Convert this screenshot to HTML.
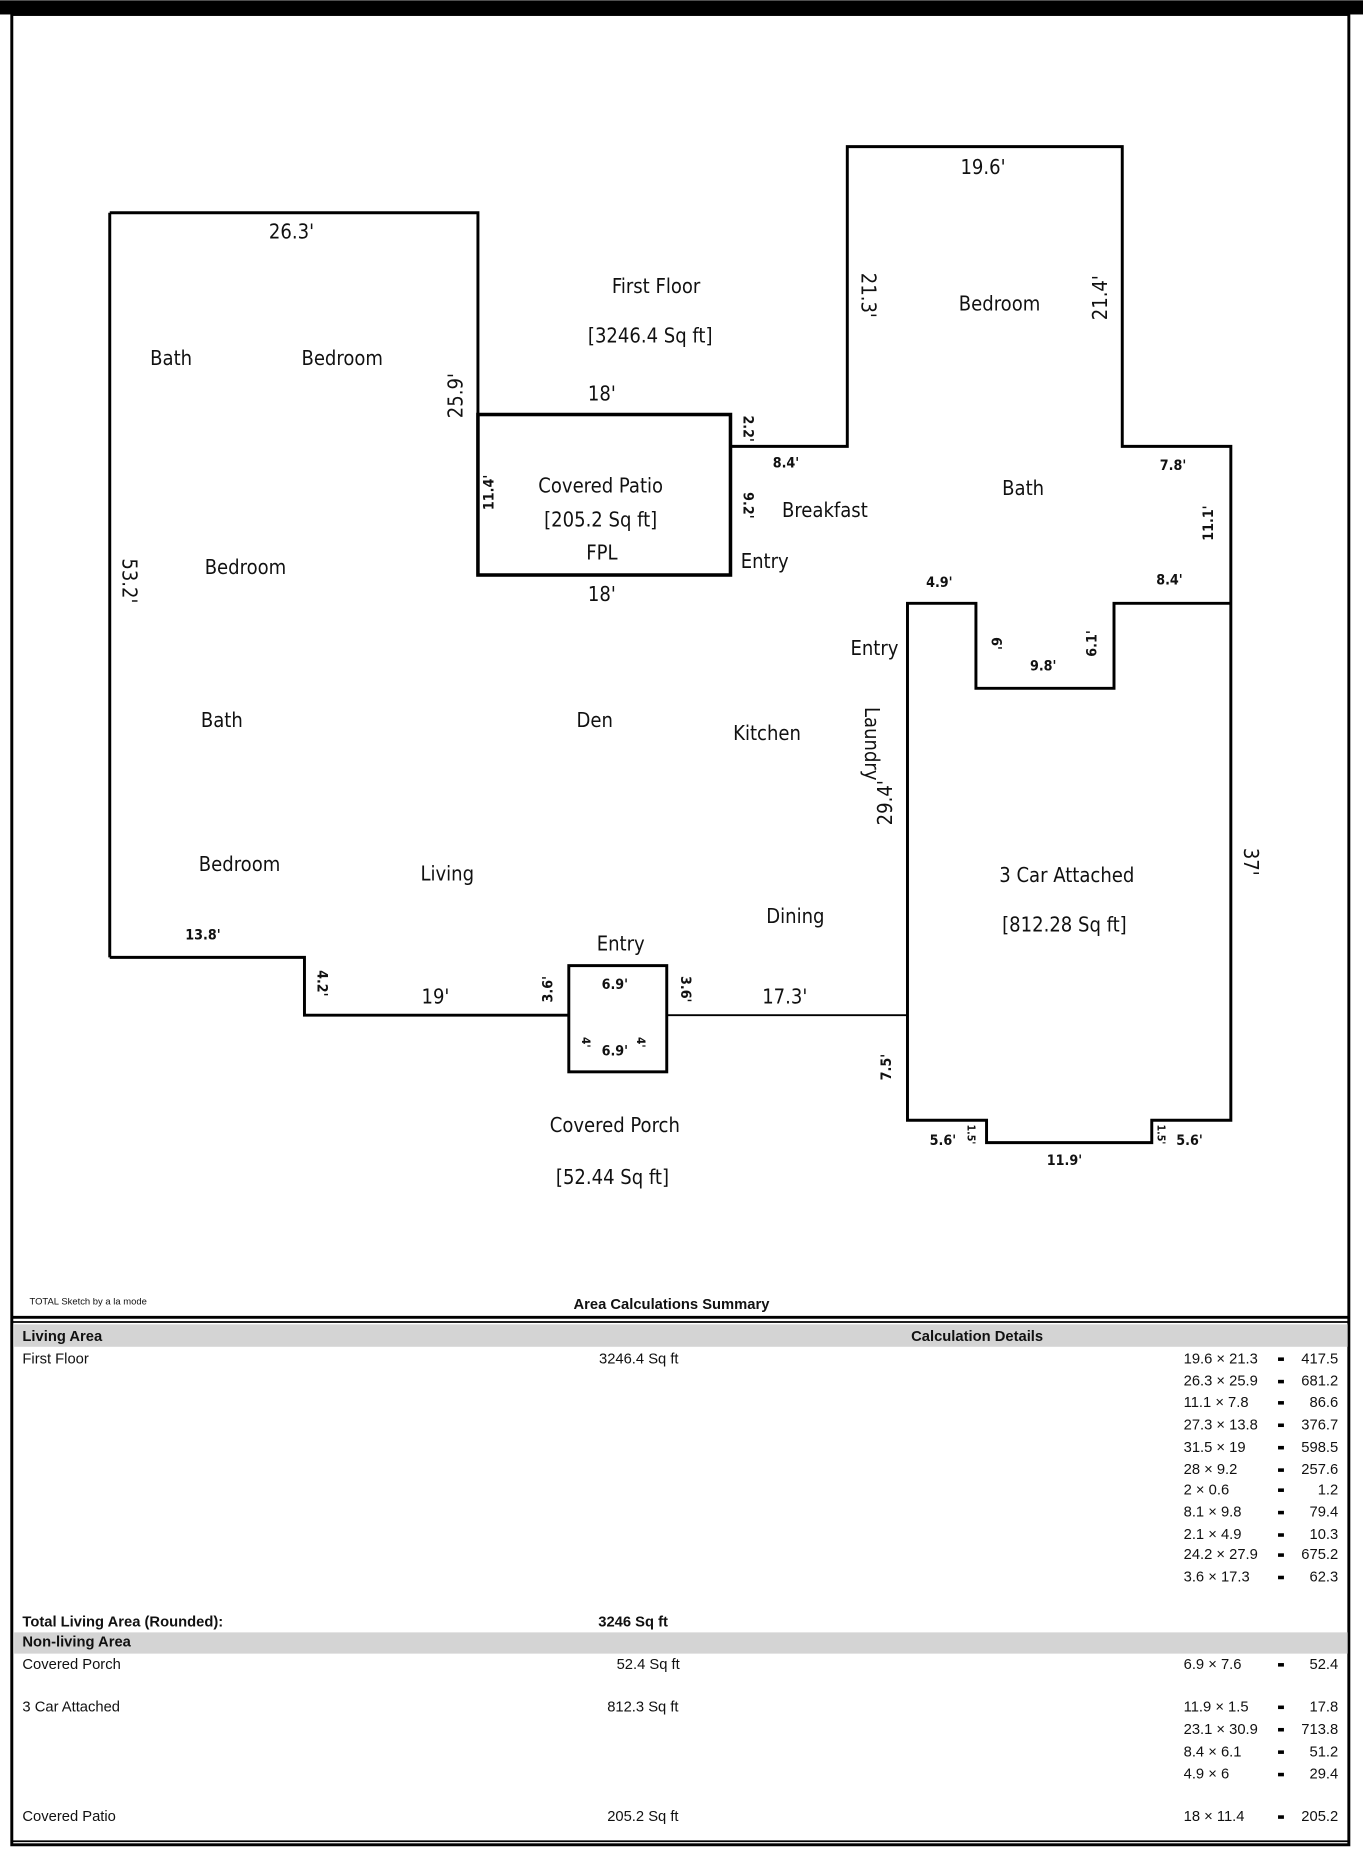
<!DOCTYPE html>
<html><head><meta charset="utf-8"><style>
html,body{margin:0;padding:0;background:#fff;}
svg{display:block;}
text{font-family:"DejaVu Sans Condensed","Liberation Sans",sans-serif;fill:#111;}
.r{font-size:17px;}
.d{font-size:17px;}
.s{font-size:12px;font-weight:bold;}
.t{font-family:"Liberation Sans Narrow","Liberation Sans",sans-serif;font-size:12.5px;}
.tb{font-family:"Liberation Sans Narrow","Liberation Sans",sans-serif;font-size:12.5px;font-weight:bold;}
</style></head><body>
<svg width="1363" height="1851" viewBox="0 0 1155 1568" xmlns="http://www.w3.org/2000/svg">
<rect x="0" y="0" width="1155" height="12" fill="#000"/>
<rect x="10" y="12" width="1133" height="1551" fill="none" stroke="#000" stroke-width="2.5"/>
<line x1="10" y1="1116" x2="1143" y2="1116" stroke="#000" stroke-width="2.5"/>
<line x1="10" y1="1120" x2="1143" y2="1120" stroke="#000" stroke-width="1.5"/>
<rect x="12" y="1122" width="1130" height="19" fill="#d4d4d4"/>
<rect x="12" y="1383" width="1130" height="18" fill="#d4d4d4"/>
<line x1="10" y1="1560" x2="1143" y2="1560" stroke="#000" stroke-width="1.5"/>

<g fill="none" stroke="#000" stroke-width="2.5" stroke-linejoin="miter">
<polyline points="93,180 405,180 405,487"/>
<line x1="93" y1="180" x2="93" y2="811"/>
<polyline points="93,811 258,811 258,860 482,860"/>
<rect x="405" y="351" width="214" height="136" stroke-width="3"/>
<polyline points="619,378 718,378 718,124 951,124 951,378 1043,378 1043,949 976,949 976,968 836,968 836,949 769,949 769,511 827,511 827,583 944,583 944,511 1043,511"/>
<rect x="482" y="818" width="83" height="90"/>
<line x1="565" y1="860" x2="769" y2="860" stroke-width="1.5"/>
</g>

<text class="r" x="556" y="248" text-anchor="middle">First Floor</text>
<text class="r" x="551" y="290" text-anchor="middle">[3246.4 Sq ft]</text>
<text class="r" x="145" y="309" text-anchor="middle">Bath</text>
<text class="r" x="290" y="309" text-anchor="middle">Bedroom</text>
<text class="r" x="847" y="263" text-anchor="middle">Bedroom</text>
<text class="r" x="509" y="417" text-anchor="middle">Covered Patio</text>
<text class="r" x="509" y="446" text-anchor="middle">[205.2 Sq ft]</text>
<text class="r" x="510" y="474" text-anchor="middle">FPL</text>
<text class="r" x="699" y="438" text-anchor="middle">Breakfast</text>
<text class="r" x="867" y="419" text-anchor="middle">Bath</text>
<text class="r" x="648" y="481" text-anchor="middle">Entry</text>
<text class="r" x="208" y="486" text-anchor="middle">Bedroom</text>
<text class="r" x="741" y="555" text-anchor="middle">Entry</text>
<text class="r" x="188" y="616" text-anchor="middle">Bath</text>
<text class="r" x="504" y="616" text-anchor="middle">Den</text>
<text class="r" x="650" y="627" text-anchor="middle">Kitchen</text>
<text class="r" x="203" y="738" text-anchor="middle">Bedroom</text>
<text class="r" x="379" y="746" text-anchor="middle">Living</text>
<text class="r" x="904" y="747" text-anchor="middle">3 Car Attached</text>
<text class="r" x="902" y="789" text-anchor="middle">[812.28 Sq ft]</text>
<text class="r" x="674" y="782" text-anchor="middle">Dining</text>
<text class="r" x="526" y="805" text-anchor="middle">Entry</text>
<text class="r" x="521" y="959" text-anchor="middle">Covered Porch</text>
<text class="r" x="519" y="1003" text-anchor="middle">[52.44 Sq ft]</text>

<text class="d" x="247" y="202" text-anchor="middle">26.3'</text>
<text class="d" x="833" y="147" text-anchor="middle">19.6'</text>
<text class="d" x="510" y="339" text-anchor="middle">18'</text>
<text class="d" x="510" y="509" text-anchor="middle">18'</text>
<text class="d" x="369" y="850" text-anchor="middle">19'</text>
<text class="d" x="665" y="850" text-anchor="middle">17.3'</text>
<text class="d" transform="translate(392,335) rotate(-90)" text-anchor="middle">25.9'</text>
<text class="d" transform="translate(104,492) rotate(90)" text-anchor="middle">53.2'</text>
<text class="d" transform="translate(730,250) rotate(90)" text-anchor="middle">21.3'</text>
<text class="d" transform="translate(938,252) rotate(-90)" text-anchor="middle">21.4'</text>
<text class="d" transform="translate(756,680) rotate(-90)" text-anchor="middle">29.4'</text>
<text class="d" transform="translate(733,630) rotate(90)" text-anchor="middle">Laundry</text>
<text class="d" transform="translate(1054,730) rotate(90)" text-anchor="middle">37'</text>

<text class="s" x="666" y="396" text-anchor="middle">8.4'</text>
<text class="s" x="994" y="398" text-anchor="middle">7.8'</text>
<text class="s" x="796" y="497" text-anchor="middle">4.9'</text>
<text class="s" x="991" y="495" text-anchor="middle">8.4'</text>
<text class="s" x="884" y="568" text-anchor="middle">9.8'</text>
<text class="s" x="172" y="796" text-anchor="middle">13.8'</text>
<text class="s" x="521" y="838" text-anchor="middle">6.9'</text>
<text class="s" x="521" y="894" text-anchor="middle">6.9'</text>
<text class="s" x="799" y="970" text-anchor="middle">5.6'</text>
<text class="s" x="1008" y="970" text-anchor="middle">5.6'</text>
<text class="s" x="902" y="987" text-anchor="middle">11.9'</text>
<text class="s" transform="translate(418,417) rotate(-90)" text-anchor="middle">11.4'</text>
<text class="s" transform="translate(630,363) rotate(90)" text-anchor="middle">2.2'</text>
<text class="s" transform="translate(630,428) rotate(90)" text-anchor="middle">9.2'</text>
<text class="s" transform="translate(1028,443) rotate(-90)" text-anchor="middle">11.1'</text>
<text class="s" transform="translate(840,545) rotate(90)" text-anchor="middle">6'</text>
<text class="s" transform="translate(929,545) rotate(-90)" text-anchor="middle">6.1'</text>
<text class="s" transform="translate(269,833) rotate(90)" text-anchor="middle">4.2'</text>
<text class="s" transform="translate(468,838) rotate(-90)" text-anchor="middle">3.6'</text>
<text class="s" transform="translate(577,838) rotate(90)" text-anchor="middle">3.6'</text>
<text class="s" transform="translate(755,904) rotate(-90)" text-anchor="middle">7.5'</text>
<text class="s" transform="translate(493,883) rotate(90)" text-anchor="middle" style="font-size:10px">4'</text>
<text class="s" transform="translate(540,883) rotate(90)" text-anchor="middle" style="font-size:10px">4'</text>
<text class="s" transform="translate(820,961) rotate(90)" text-anchor="middle" style="font-size:9px">1.5'</text>
<text class="s" transform="translate(981,961) rotate(90)" text-anchor="middle" style="font-size:9px">1.5'</text>

<text class="t" x="25" y="1105" style="font-size:8px">TOTAL Sketch by a la mode</text>
<text class="tb" x="569" y="1109" text-anchor="middle">Area Calculations Summary</text>
<text class="tb" x="19" y="1136">Living Area</text>
<text class="tb" x="828" y="1136" text-anchor="middle">Calculation Details</text>
<text class="t" x="19" y="1155">First Floor</text>
<text class="t" x="575" y="1155" text-anchor="end">3246.4 Sq ft</text>
<g>
<text class="t" x="1003" y="1155">19.6 × 21.3</text><text class="t" x="1134" y="1155" text-anchor="end">417.5</text>
<text class="t" x="1003" y="1174">26.3 × 25.9</text><text class="t" x="1134" y="1174" text-anchor="end">681.2</text>
<text class="t" x="1003" y="1192">11.1 × 7.8</text><text class="t" x="1134" y="1192" text-anchor="end">86.6</text>
<text class="t" x="1003" y="1211">27.3 × 13.8</text><text class="t" x="1134" y="1211" text-anchor="end">376.7</text>
<text class="t" x="1003" y="1230">31.5 × 19</text><text class="t" x="1134" y="1230" text-anchor="end">598.5</text>
<text class="t" x="1003" y="1249">28 × 9.2</text><text class="t" x="1134" y="1249" text-anchor="end">257.6</text>
<text class="t" x="1003" y="1266">2 × 0.6</text><text class="t" x="1134" y="1266" text-anchor="end">1.2</text>
<text class="t" x="1003" y="1285">8.1 × 9.8</text><text class="t" x="1134" y="1285" text-anchor="end">79.4</text>
<text class="t" x="1003" y="1304">2.1 × 4.9</text><text class="t" x="1134" y="1304" text-anchor="end">10.3</text>
<text class="t" x="1003" y="1321">24.2 × 27.9</text><text class="t" x="1134" y="1321" text-anchor="end">675.2</text>
<text class="t" x="1003" y="1340">3.6 × 17.3</text><text class="t" x="1134" y="1340" text-anchor="end">62.3</text>
<text class="t" x="1003" y="1414">6.9 × 7.6</text><text class="t" x="1134" y="1414" text-anchor="end">52.4</text>
<text class="t" x="1003" y="1450">11.9 × 1.5</text><text class="t" x="1134" y="1450" text-anchor="end">17.8</text>
<text class="t" x="1003" y="1469">23.1 × 30.9</text><text class="t" x="1134" y="1469" text-anchor="end">713.8</text>
<text class="t" x="1003" y="1488">8.4 × 6.1</text><text class="t" x="1134" y="1488" text-anchor="end">51.2</text>
<text class="t" x="1003" y="1507">4.9 × 6</text><text class="t" x="1134" y="1507" text-anchor="end">29.4</text>
<text class="t" x="1003" y="1543">18 × 11.4</text><text class="t" x="1134" y="1543" text-anchor="end">205.2</text>
</g>
<g fill="#000">
<rect x="1083" y="1150" width="5" height="3"/><rect x="1083" y="1169" width="5" height="3"/><rect x="1083" y="1187" width="5" height="3"/><rect x="1083" y="1206" width="5" height="3"/><rect x="1083" y="1225" width="5" height="3"/><rect x="1083" y="1244" width="5" height="3"/><rect x="1083" y="1261" width="5" height="3"/><rect x="1083" y="1280" width="5" height="3"/><rect x="1083" y="1299" width="5" height="3"/><rect x="1083" y="1316" width="5" height="3"/><rect x="1083" y="1335" width="5" height="3"/><rect x="1083" y="1409" width="5" height="3"/><rect x="1083" y="1445" width="5" height="3"/><rect x="1083" y="1464" width="5" height="3"/><rect x="1083" y="1483" width="5" height="3"/><rect x="1083" y="1502" width="5" height="3"/><rect x="1083" y="1538" width="5" height="3"/>
</g>
<text class="tb" x="19" y="1378">Total  Living Area  (Rounded):</text>
<text class="tb" x="566" y="1378" text-anchor="end">3246 Sq ft</text>
<text class="tb" x="19" y="1395">Non-living Area</text>
<text class="t" x="19" y="1414">Covered Porch</text>
<text class="t" x="576" y="1414" text-anchor="end">52.4 Sq ft</text>
<text class="t" x="19" y="1450">3 Car Attached</text>
<text class="t" x="575" y="1450" text-anchor="end">812.3 Sq ft</text>
<text class="t" x="19" y="1543">Covered Patio</text>
<text class="t" x="575" y="1543" text-anchor="end">205.2 Sq ft</text>
</svg>
</body></html>
